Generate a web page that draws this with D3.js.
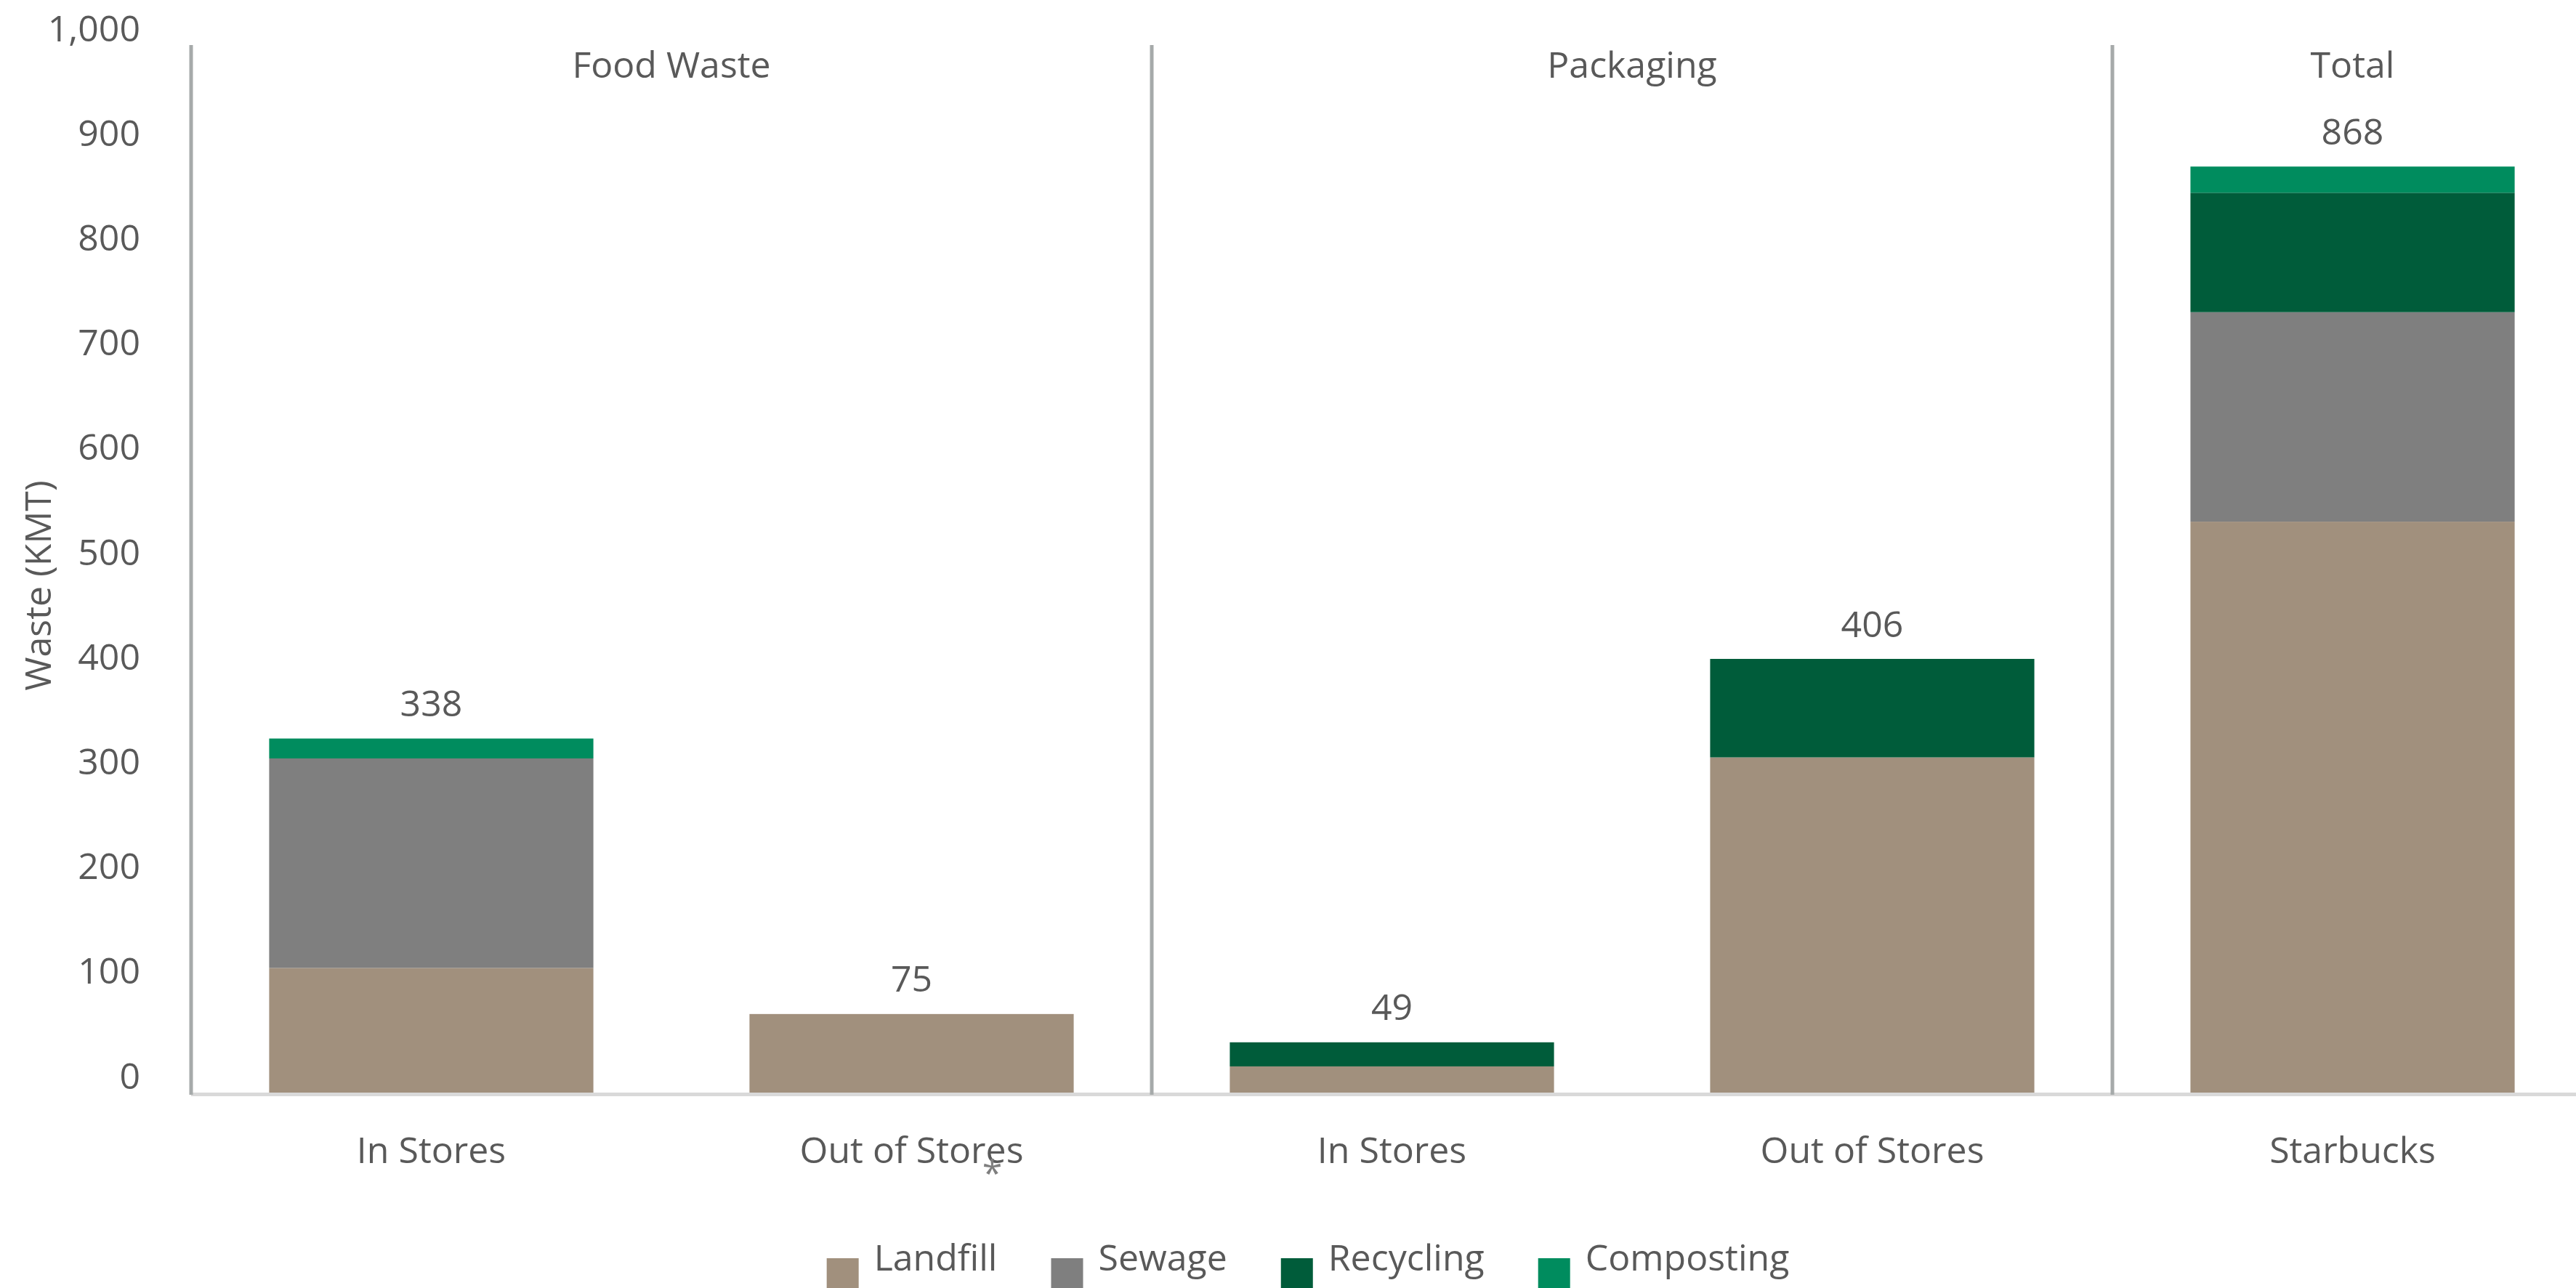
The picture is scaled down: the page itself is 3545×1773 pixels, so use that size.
<!DOCTYPE html>
<html>
<head>
<meta charset="utf-8">
<title>Starbucks waste</title>
<style>
  body { margin: 0; background: #fff; }
  text { font-family: "Open Sans", "Noto Sans", sans-serif; fill: #595959; }
</style>
</head>
<body>
<script src="https://cdn.jsdelivr.net/npm/d3@7/dist/d3.min.js"></script>
<script>
// chart data (KMT)
var categories = ["In Stores", "Out of Stores", "In Stores", "Out of Stores", "Starbucks"];
var groups = ["Food Waste", "Packaging", "Total"];
var groupOf = [0, 0, 1, 1, 2];
var seriesNames = ["Landfill", "Sewage", "Recycling", "Composting"];
var landfill = [119, 75, 25, 320, 545];
var sewage = [200, 0, 0, 0, 200];
var recycling = [0, 0, 23, 94, 114];
var composting = [19, 0, 0, 0, 25];
var totalLabels = [338, 75, 49, 406, 868];
var yTicks = [0, 100, 200, 300, 400, 500, 600, 700, 800, 900, 1000];
var colors = ["#a1907d", "#7f7f7f", "#005c3a", "#008c5e"];

var width = 3545, height = 1773;
var margin = {top: 62, left: 263, bottom: 269};
var step = 661;
var fontSize = 50;

var svg = d3.select("body").append("svg")
  .attr("width", width)
  .attr("height", height);

var x = d3.scaleBand()
  .domain(d3.range(categories.length))
  .range([margin.left, margin.left + step * categories.length])
  .paddingInner(0.325)
  .paddingOuter(0.1625);

var y = d3.scaleLinear()
  .domain([0, 1000])
  .range([height - margin.bottom, margin.top]);

// build rows for the stack
var rows = categories.map(function(c, i) {
  return {i: i, Landfill: landfill[i], Sewage: sewage[i], Recycling: recycling[i], Composting: composting[i]};
});
var stacked = d3.stack().keys(seriesNames)(rows);

// bars
svg.append("g").selectAll("g")
  .data(stacked)
  .enter().append("g")
  .attr("fill", function(d, k) { return colors[k]; })
  .selectAll("rect")
  .data(function(d) { return d; })
  .enter().append("rect")
  .attr("x", function(d) { return x(d.data.i); })
  .attr("y", function(d) { return y(d[1]); })
  .attr("width", x.bandwidth())
  .attr("height", function(d) { return y(d[0]) - y(d[1]); });

// total labels over the bars
svg.append("g").selectAll("text")
  .data(rows)
  .enter().append("text")
  .attr("x", function(d) { return x(d.i) + x.bandwidth() / 2; })
  .attr("y", function(d) { return y(d.Landfill + d.Sewage + d.Recycling + d.Composting) - 48; })
  .attr("dy", "0.35em")
  .attr("text-anchor", "middle")
  .style("font-size", fontSize + "px")
  .text(function(d) { return totalLabels[d.i]; });

// x axis line
svg.append("line")
  .attr("x1", margin.left).attr("x2", width)
  .attr("y1", y(0) + 2.5).attr("y2", y(0) + 2.5)
  .attr("stroke", "#d9d9d9")
  .attr("stroke-width", 5);

// y axis line and group separators
var seps = [0, 2, 4].map(function(i) { return x(i) - x.step() * x.paddingOuter(); });
svg.append("g").selectAll("line")
  .data(seps)
  .enter().append("line")
  .attr("x1", function(d) { return d; })
  .attr("x2", function(d) { return d; })
  .attr("y1", y(1000))
  .attr("y2", y(0) + 3)
  .attr("stroke", "#a6aaaa")
  .attr("stroke-width", 5);

// y axis ticks
var yAxis = d3.axisLeft(y).tickValues(yTicks).tickSize(0).tickPadding(70).tickFormat(d3.format(","));
var gy = svg.append("g")
  .attr("transform", "translate(" + margin.left + ",0)")
  .call(yAxis);
gy.select(".domain").remove();
gy.selectAll("text")
  .attr("y", -22)
  .style("font-size", fontSize + "px")
  .style("font-family", null);

// category labels
var xAxis = d3.axisBottom(x).tickSize(0).tickFormat(function(i) { return categories[i]; });
var gx = svg.append("g")
  .attr("transform", "translate(0," + y(0) + ")")
  .call(xAxis);
gx.select(".domain").remove();
gx.selectAll("text")
  .attr("y", 97)
  .attr("dy", null)
  .style("font-size", fontSize + "px")
  .style("font-family", null);

// footnote asterisk on food waste out of stores
svg.append("text")
  .attr("x", x(1) + x.bandwidth() / 2 + 111)
  .attr("y", y(0) + 129)
  .attr("text-anchor", "middle")
  .style("font-size", fontSize + "px")
  .style("fill", "#7f7f7f")
  .text("*");

// group labels
svg.append("g").selectAll("text")
  .data(groups)
  .enter().append("text")
  .attr("x", function(g, k) {
    var idx = d3.range(categories.length).filter(function(i) { return groupOf[i] === k; });
    return (x(idx[0]) + x(idx[idx.length - 1]) + x.bandwidth()) / 2;
  })
  .attr("y", 107)
  .attr("text-anchor", "middle")
  .style("font-size", fontSize + "px")
  .text(function(g) { return g; });

// y axis title
svg.append("text")
  .attr("transform", "translate(70," + 806 + ") rotate(-90)")
  .attr("text-anchor", "middle")
  .style("font-size", fontSize + "px")
  .text("Waste (KMT)");

// legend
var legend = svg.append("g");
var lx = 0;
seriesNames.forEach(function(s, k) {
  var item = legend.append("g").attr("transform", "translate(" + lx + ",0)");
  item.append("rect")
    .attr("x", 0).attr("y", 1732)
    .attr("width", 44).attr("height", 44)
    .attr("fill", colors[k]);
  var t = item.append("text")
    .attr("x", 65).attr("y", 1749)
    .style("font-size", fontSize + "px")
    .text(s);
  lx += 65 + t.node().getComputedTextLength() + 74;
});
var legendWidth = lx - 74;
legend.attr("transform", "translate(" + (1800 - legendWidth / 2) + ",0)");
</script>
</body>
</html>
